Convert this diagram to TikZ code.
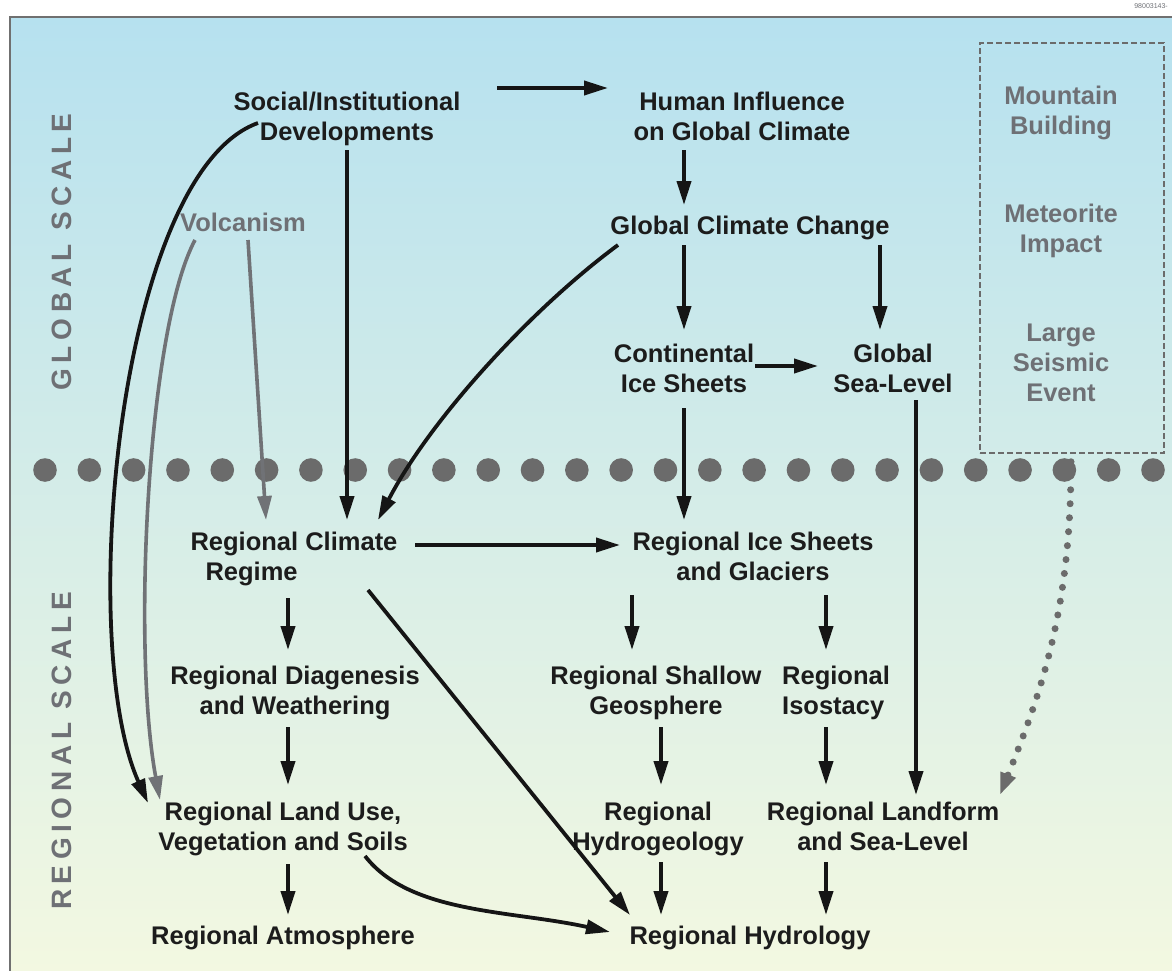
\documentclass[tikz,border=0pt]{standalone}
\usepackage{fontspec}
\setmainfont{Liberation Sans}
\newfontfamily\spacedfont[LetterSpace=20]{Liberation Sans}
\usetikzlibrary{arrows.meta,calc}
\definecolor{txtc}{HTML}{1C1C1C}
\definecolor{grayt}{HTML}{6E7075}
\definecolor{dotc}{HTML}{6B6B6B}
\definecolor{arrc}{HTML}{151515}
\definecolor{garrc}{HTML}{707276}
\definecolor{bgtop}{HTML}{B6E1EF}
\definecolor{bgmid}{HTML}{D3ECEB}
\definecolor{bgbot}{HTML}{F3F8E1}
\definecolor{framec}{HTML}{707070}
\begin{document}
\begin{tikzpicture}[x=1pt,y=-1pt,
  lbl/.style={font=\fontsize{25.5}{30}\selectfont\bfseries, text=txtc, inner sep=0pt, align=center},
  glbl/.style={lbl, text=grayt},
  side/.style={font=\fontsize{28}{32}\selectfont\spacedfont\bfseries, text=grayt, inner sep=0pt, rotate=90},
  arr/.style={line width=3.8pt, draw=arrc, -{Triangle[length=24pt,width=14pt]}},
  garr/.style={line width=3.6pt, draw=garrc, -{Triangle[length=24pt,width=14pt]}},
  darr/.style={line width=7pt, draw=dotc, line cap=round, dash pattern=on 0pt off 14pt, -{Triangle[length=22pt,width=15pt]}}
]
\useasboundingbox (0,0) rectangle (1172,971);
% background
\shade[top color=bgtop, middle color=bgmid, bottom color=bgbot] (10,17) rectangle (1172,971);
\draw[framec, line width=1.5pt] (1172,17) -- (10,17) -- (10,971);
\node[font=\fontsize{7}{8}\selectfont, text=grayt, anchor=east, inner sep=0pt] (code) at (1168,6) {98003143-};

% side labels
\node[side] (glob) at (62,252) {GLOBAL SCALE};
\node[side] (regl) at (62,751) {REGIONAL SCALE};

% row of dots
\foreach \i in {0,...,25} {\fill[dotc] (45+44.32*\i,470) circle (11.8);}

% external events box
\node[draw=dotc, line width=1.5pt, dash pattern=on 6pt off 3pt, minimum width=184pt, minimum height=410pt, inner sep=0pt] (ext) at (1072,248) {};
\node[glbl] (mtn) at (1061,114) {\strut Mountain\\\strut Building};
\node[glbl] (met) at (1061,231) {\strut Meteorite\\\strut Impact};
\node[glbl] (seis) at (1061,365) {\strut Large\\\strut Seismic\\\strut Event};

% nodes
\node[lbl] (soc) at (347,119.5) {\strut Social/Institutional\\\strut Developments};
\node[lbl] (hum) at (742,119.5) {\strut Human Influence\\\strut on Global Climate};
\node[glbl] (volc) at (243,225) {\strut Volcanism};
\node[lbl] (gcc) at (750,228) {\strut Global Climate Change};
\node[lbl] (cis) at (684,371.5) {\strut Continental\\\strut Ice Sheets};
\node[lbl] (gsl) at (893,371.5) {\strut Global\\\strut Sea-Level};
\node[lbl, align=left] (rcr) at (294,559) {\strut Regional Climate\\\strut\hspace*{15pt}Regime};
\node[lbl] (ris) at (753,559) {\strut Regional Ice Sheets\\\strut and Glaciers};
\node[lbl] (rdw) at (295,693.5) {\strut Regional Diagenesis\\\strut and Weathering};
\node[lbl] (rsg) at (656,693.5) {\strut Regional Shallow\\\strut Geosphere};
\node[lbl, align=left] (riso) at (836,693.5) {\strut Regional\\\strut Isostacy};
\node[lbl] (rlu) at (283,829.5) {\strut Regional Land Use,\\\strut Vegetation and Soils};
\node[lbl] (rhg) at (658,829.5) {\strut Regional\\\strut Hydrogeology};
\node[lbl] (rlf) at (883,829.5) {\strut Regional Landform\\\strut and Sea-Level};
\node[lbl] (ratm) at (283,938) {\strut Regional Atmosphere};
\node[lbl] (rhyd) at (750,938) {\strut Regional Hydrology};

% connectors
\draw[arr] ($(soc)+(150,-31.5)$) -- ($(hum)+(-134,-31.5)$);
\draw[arr] ($(hum)+(-58,30.5)$) -- ($(gcc)+(-66,-23)$);
\draw[arr] ($(gcc)+(-66,17)$) -- ($(cis)+(0,-41.5)$);
\draw[arr] ($(gcc)+(130,17)$) -- ($(gsl)+(-13,-41.5)$);
\draw[arr] ($(cis)+(71,-5.5)$) -- ($(gsl)+(-75,-5.5)$);
\draw[arr] ($(cis)+(0,36.5)$) -- ($(ris)+(-69,-39)$);
\draw[arr] ($(gsl)+(23,28.5)$) -- ($(rlf)+(33,-34.5)$);
\draw[arr] ($(soc)+(0,30.5)$) -- ($(rcr)+(53,-39)$);
\draw[arr] ($(soc)+(-89,3.5)$) .. controls +(-140,50) and +(-72,-160) .. ($(rlu)+(-135,-26.5)$);
\draw[garr] ($(volc)+(-48,15)$) .. controls +(-48,90) and +(-28,-150) .. ($(rlu)+(-123,-29.5)$);
\draw[garr] ($(volc)+(5,15)$) -- ($(rcr)+(-28,-39)$);
\draw[arr] ($(gcc)+(-132,17)$) .. controls +(-88,65) and +(52,-100) .. ($(rcr)+(84,-39)$);
\draw[arr] ($(rcr)+(121,-14)$) -- ($(ris)+(-133,-14)$);
\draw[arr] ($(rcr)+(-6,39)$) -- ($(rdw)+(-7,-43.5)$);
\draw[arr] ($(rcr)+(74,31)$) -- ($(rhyd)+(-120,-23)$);
\draw[arr] ($(rdw)+(-7,33.5)$) -- ($(rlu)+(5,-44.5)$);
\draw[arr] ($(rlu)+(5,34.5)$) -- ($(ratm)+(5,-23)$);
\draw[arr] ($(rlu)+(82,26.5)$) .. controls +(45,58) and +(-100,-22) .. ($(rhyd)+(-140,-6)$);
\draw[arr] ($(ris)+(-121,36)$) -- ($(rsg)+(-24,-43.5)$);
\draw[arr] ($(ris)+(73,36)$) -- ($(riso)+(-10,-43.5)$);
\draw[arr] ($(rsg)+(5,33.5)$) -- ($(rhg)+(3,-44.5)$);
\draw[arr] ($(riso)+(-10,33.5)$) -- ($(rlf)+(-57,-44.5)$);
\draw[arr] ($(rhg)+(3,32.5)$) -- ($(rhyd)+(-89,-23)$);
\draw[arr] ($(rlf)+(-57,32.5)$) -- ($(rhyd)+(76,-23)$);
\draw[darr] ($(ext.south)+(-1,8)$) .. controls +(0,150) and +(40,-100) .. ($(rlf)+(117,-34.5)$);
\end{tikzpicture}
\end{document}
